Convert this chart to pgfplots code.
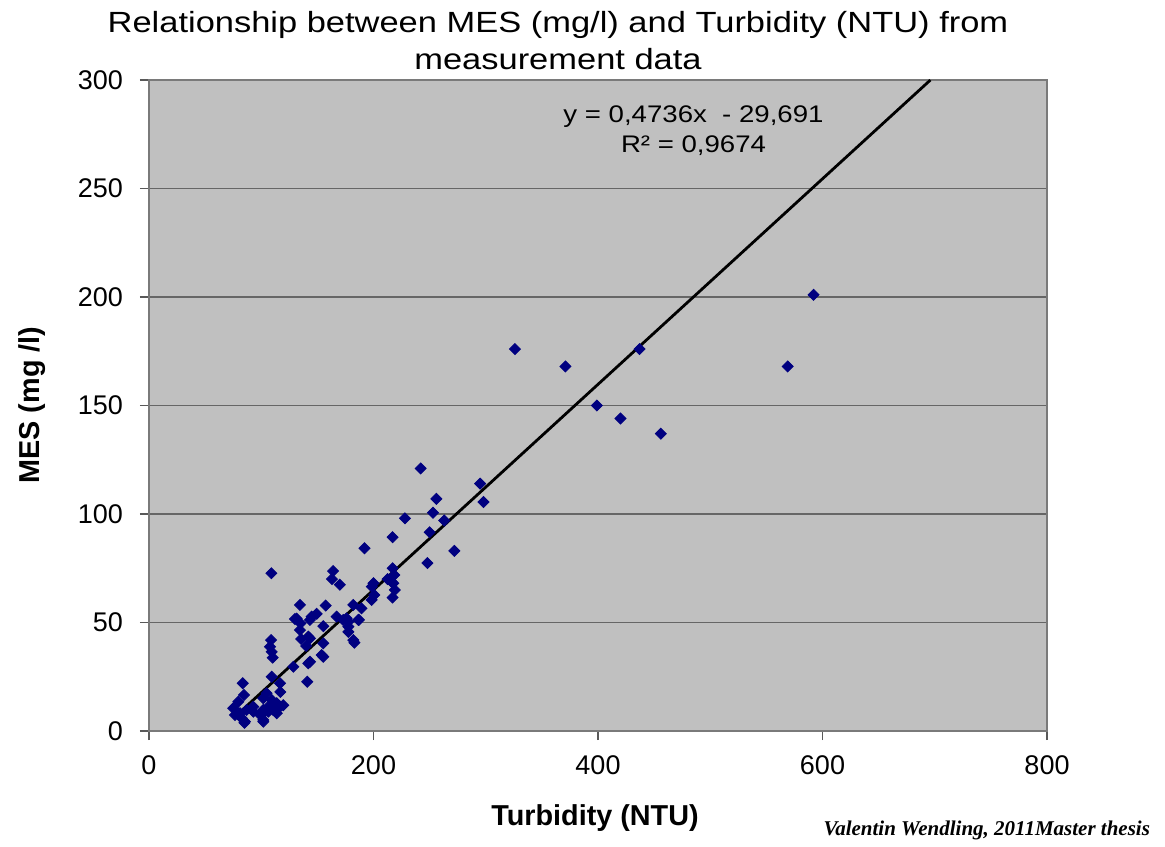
\documentclass[border=0pt]{standalone}
\usepackage{fontspec}
\setmainfont{Liberation Sans}
\newfontfamily\titlefont[FakeStretch=1.18]{Liberation Sans}
\newfontfamily\eqfont[FakeStretch=1.15]{Liberation Sans}
\newfontfamily\wmfont{Liberation Serif}
\usepackage{pgfplots}
\pgfplotsset{compat=1.18}
\definecolor{bgc}{HTML}{C0C0C0}
\definecolor{navyc}{HTML}{000080}
\definecolor{gridc}{HTML}{666666}
\definecolor{framec}{HTML}{7A7A7A}

\pgfplotstableread{
x y
592 201
569 168
326 176
371 168
437 176
399 150
420 144
456 137
242 121
295 114
298 105.5
256 107
253 100.6
263 97
228 98
250 91.6
217 89.3
272 83
192 84.2
248 77.4
109 72.7
164 73.7
163 70
170 67.4
217 75
218.5 71.9
212.5 70
216 68.8
200 68.1
198.5 66.5
217.6 68.1
219 65
200.7 62.7
198.4 60.4
217 61.5
189.3 56.5
182 58.1
187 51.2
134.5 58.1
157.4 57.8
130 51.6
131.5 51.8
135 49.6
144.9 52.7
149.4 54
143.4 51.2
167.2 52.7
173 51.2
176 51.9
177.6 50.4
177.6 48.1
186.5 51.2
155.3 48.3
134.5 46.5
177.6 45.7
182 41.9
183 40.7
141.9 43.5
135.5 42.4
143.4 42.7
140 39.2
155.3 40.4
153.8 35
155.3 34.2
108.7 41.9
107.8 38.8
109.3 36.5
110.2 33.8
143.4 31.9
141.9 31.2
128.6 29.6
141 22.7
83.5 22
84.6 16.6
109.3 25
116.7 22
117 18
79.6 13.5
75.1 10.5
76.6 7.4
87 9.7
92.9 11.2
85.5 4.3
85 3.8
82.6 5.9
81.1 8.2
101.8 15.1
104.8 17.4
109.3 14.3
113.8 12.8
116.7 11.2
119.6 11.9
106.3 11.2
101.8 9.7
100.4 7.4
101.8 5.1
101.8 4.3
99 7.4
110.7 9.7
113.8 8.2
106.3 8.9
92.9 8.9
}\datatable

\begin{document}
\begin{tikzpicture}[x=1pt,y=1pt]
\path[use as bounding box] (-74.5,-57.5) rectangle (508,365.5);
\begin{axis}[
  at={(0,0)}, anchor=south west,
  scale only axis, width=449pt, height=325.5pt,
  xmin=0, xmax=800, ymin=0, ymax=300,
  xtick={0,200,...,800}, ytick={0,50,...,300},
  axis background/.style={fill=bgc},
  ymajorgrids,
  major grid style={gridc, line width=0.8pt},
  axis line style={framec, line width=0.9pt},
  tick align=outside, tick pos=left,
  major tick length=4.5pt,
  tick style={black!65, line width=0.8pt},
  tick label style={font=\fontsize{13.5}{16}\selectfont},
  /pgf/number format/assume math mode=true,
  xticklabel style={yshift=-4.5pt},
  yticklabel style={xshift=-5pt},
  clip=true,
]
\addplot[only marks, mark=square*, mark size=1.95pt,
  mark options={rotate=45, fill=navyc, draw=navyc}] table[x=x,y=y] {\datatable};
\addplot[black, line width=1.4pt, no marks] coordinates {(75,5.829) (696.14,300)};
\end{axis}
\node[anchor=base, font=\titlefont\fontsize{14.6}{16}\selectfont] at (204.5,349) {Relationship between MES (mg/l) and Turbidity (NTU) from};
\node[anchor=base, font=\titlefont\fontsize{14.6}{16}\selectfont] at (204.5,330.5) {measurement data};
\node[anchor=base, font=\eqfont\fontsize{12}{14}\selectfont] at (272.25,304) {y = 0,4736x \ - 29,691};
\node[anchor=base, font=\eqfont\fontsize{12}{14}\selectfont] at (272.25,289) {R² = 0,9674};
\node[anchor=base, font=\bfseries\fontsize{14.4}{16}\selectfont] at (223,-47) {Turbidity (NTU)};
\node[rotate=90, font=\bfseries\fontsize{14.4}{16}\selectfont] at (-58.5,163) {MES (mg /l)};
\node[anchor=base east, font=\wmfont\bfseries\itshape\fontsize{10.5}{12}\selectfont] at (504,-52) {Valentin Wendling, 2011Master thesis};
\end{tikzpicture}
\end{document}
